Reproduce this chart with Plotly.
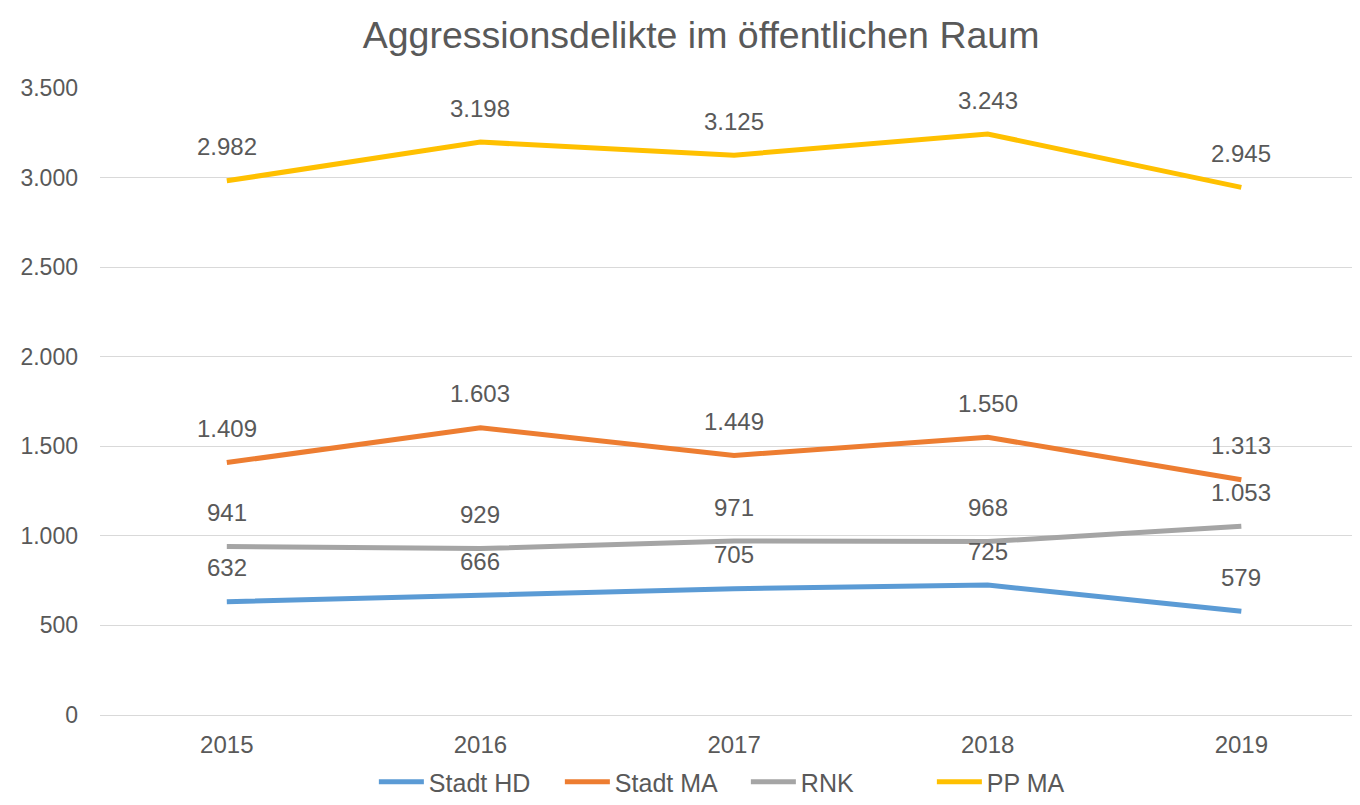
import plotly.graph_objects as go

years = ["2015", "2016", "2017", "2018", "2019"]
stadt_hd = [632, 666, 705, 725, 579]
stadt_ma = [1409, 1603, 1449, 1550, 1313]
rnk = [941, 929, 971, 968, 1053]
pp_ma = [2982, 3198, 3125, 3243, 2945]

series = [
    ("Stadt HD", stadt_hd, "#5B9BD5"),
    ("Stadt MA", stadt_ma, "#ED7D31"),
    ("RNK", rnk, "#A5A5A5"),
    ("PP MA", pp_ma, "#FFC000"),
]

FONT = "Liberation Sans, Arial, sans-serif"
TXT = "#595959"
H = 797

fig = go.Figure()
annotations = []
for name, vals, color in series:
    fig.add_trace(go.Scatter(
        x=years, y=vals, name=name, mode="lines",
        line=dict(color=color, width=5),
    ))
    for i, v in enumerate(vals):
        annotations.append(dict(
            x=i, y=v, xref="x", yref="y",
            text=f"{v:,}".replace(",", "."),
            showarrow=False, yshift=34,
            font=dict(family=FONT, size=24, color=TXT),
        ))

fig.update_layout(
    width=1360, height=H,
    paper_bgcolor="white", plot_bgcolor="white",
    margin=dict(l=92, r=10, t=80, b=90, autoexpand=False),
    title=dict(text="Aggressionsdelikte im öffentlichen Raum", x=0.5096, xanchor="center",
               y=1 - 27 / H, yanchor="middle",
               font=dict(family=FONT, size=37.5, color=TXT)),
    separators=",.",
    annotations=annotations,
    showlegend=True,
    legend=dict(orientation="h", x=0.2177, xanchor="left", yref="container", y=0,
                yanchor="bottom",
                font=dict(family=FONT, size=25, color=TXT), itemwidth=45,
                entrywidth=126, entrywidthmode="pixels", tracegroupgap=0),
    font=dict(family=FONT, color=TXT),
)
fig.update_xaxes(
    type="category", range=[-0.5, 4.46], automargin=False,
    showgrid=False, showline=True, linecolor="#D9D9D9", linewidth=1,
    tickfont=dict(family=FONT, size=24, color=TXT), ticks="", ticklabelstandoff=8,
)
fig.update_yaxes(
    range=[0, 3500], tickvals=[0, 500, 1000, 1500, 2000, 2500, 3000, 3500],
    tickformat=",d", automargin=False,
    showgrid=True, gridcolor="#D9D9D9", gridwidth=1,
    zeroline=True, zerolinecolor="#D9D9D9", zerolinewidth=1,
    tickfont=dict(family=FONT, size=23, color=TXT), ticks="", ticklabelstandoff=21,
)

fig.write_html("out.html")
